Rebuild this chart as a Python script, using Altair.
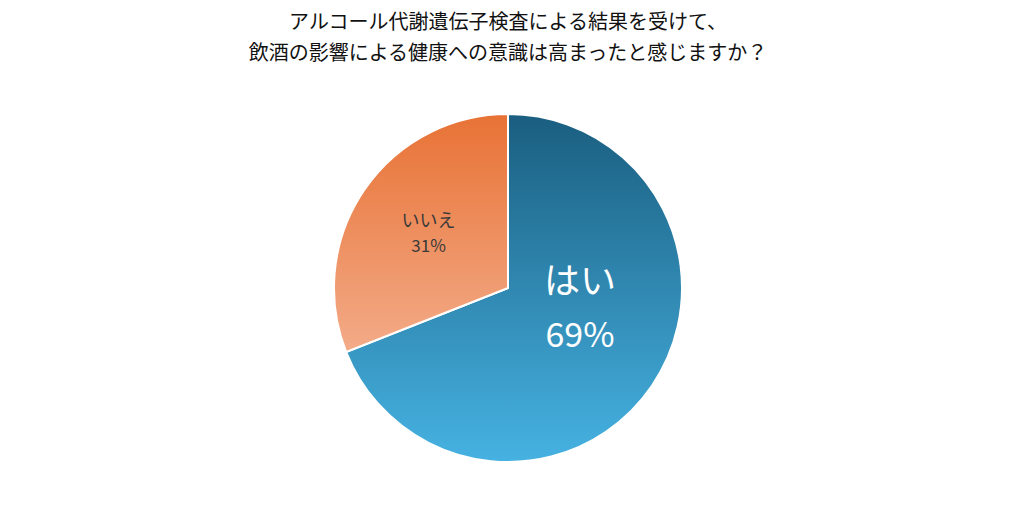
import altair as alt
import pandas as pd

categories = ["はい", "いいえ"]
values = [69, 31]
pct_labels = ["69%", "31%"]
order = [0, 1]

df = pd.DataFrame({"cat": categories, "value": values, "pct": pct_labels, "ord": order})

FONT = "Noto Sans CJK JP"

g_blue = {
    "gradient": "linear", "x1": 0, "y1": 0, "x2": 0, "y2": 1,
    "stops": [{"offset": 0, "color": "#1a5e80"}, {"offset": 1, "color": "#46b2e2"}],
}
g_orange = {
    "gradient": "linear", "x1": 0, "y1": 0, "x2": 0, "y2": 1,
    "stops": [{"offset": 0, "color": "#e87235"}, {"offset": 1, "color": "#f3ab88"}],
}

theta_scale = alt.Scale(domain=[0, 100], range=[0, 6.283185307179586])

base = (
    alt.Chart(df)
    .transform_window(cum="sum(value)", sort=[alt.SortField("ord")])
    .transform_calculate(start="datum.cum - datum.value", mid="datum.cum - datum.value/2")
)

arc = base.mark_arc(outerRadius=174, stroke="white", strokeWidth=2).encode(
    theta=alt.Theta("start:Q", scale=theta_scale),
    theta2="cum:Q",
    color=alt.condition("datum.cat === 'はい'", alt.value(g_blue), alt.value(g_orange)),
)

yes_name = base.transform_filter("datum.cat === 'はい'").mark_text(
    radius=87, dy=-54, font=FONT, fontSize=36, color="white", align="center", baseline="middle"
).encode(theta=alt.Theta("mid:Q", scale=theta_scale), text="cat:N")
yes_pct = base.transform_filter("datum.cat === 'はい'").mark_text(
    radius=87, dy=0, font=FONT, fontSize=34, color="white", align="center", baseline="middle"
).encode(theta=alt.Theta("mid:Q", scale=theta_scale), text="pct:N")
no_name = base.transform_filter("datum.cat === 'いいえ'").mark_text(
    radius=96, dy=-12, font=FONT, fontSize=18, color="#3a3a3a", align="center", baseline="middle"
).encode(theta=alt.Theta("mid:Q", scale=theta_scale), text="cat:N")
no_pct = base.transform_filter("datum.cat === 'いいえ'").mark_text(
    radius=96, dy=13, font=FONT, fontSize=17, color="#3a3a3a", align="center", baseline="middle"
).encode(theta=alt.Theta("mid:Q", scale=theta_scale), text="pct:N")

chart = (
    alt.layer(arc, yes_name, yes_pct, no_name, no_pct)
    .properties(
        width=1000,
        height=492,
        autosize=alt.AutoSizeParams(type="fit", contains="padding"),
        padding={"left": 0, "right": 0, "top": 5, "bottom": 0},
        title=alt.Title(
            ["アルコール代謝遺伝子検査による結果を受けて、", "飲酒の影響による健康への意識は高まったと感じますか？"],
            font=FONT, fontSize=20, fontWeight="normal", color="#111111",
            lineHeight=31, anchor="middle", offset=12,
        ),
    )
    .configure_view(stroke=None)
    .configure(background="white")
)

chart.save("out.html", embed_options={"renderer": "svg", "actions": False})
